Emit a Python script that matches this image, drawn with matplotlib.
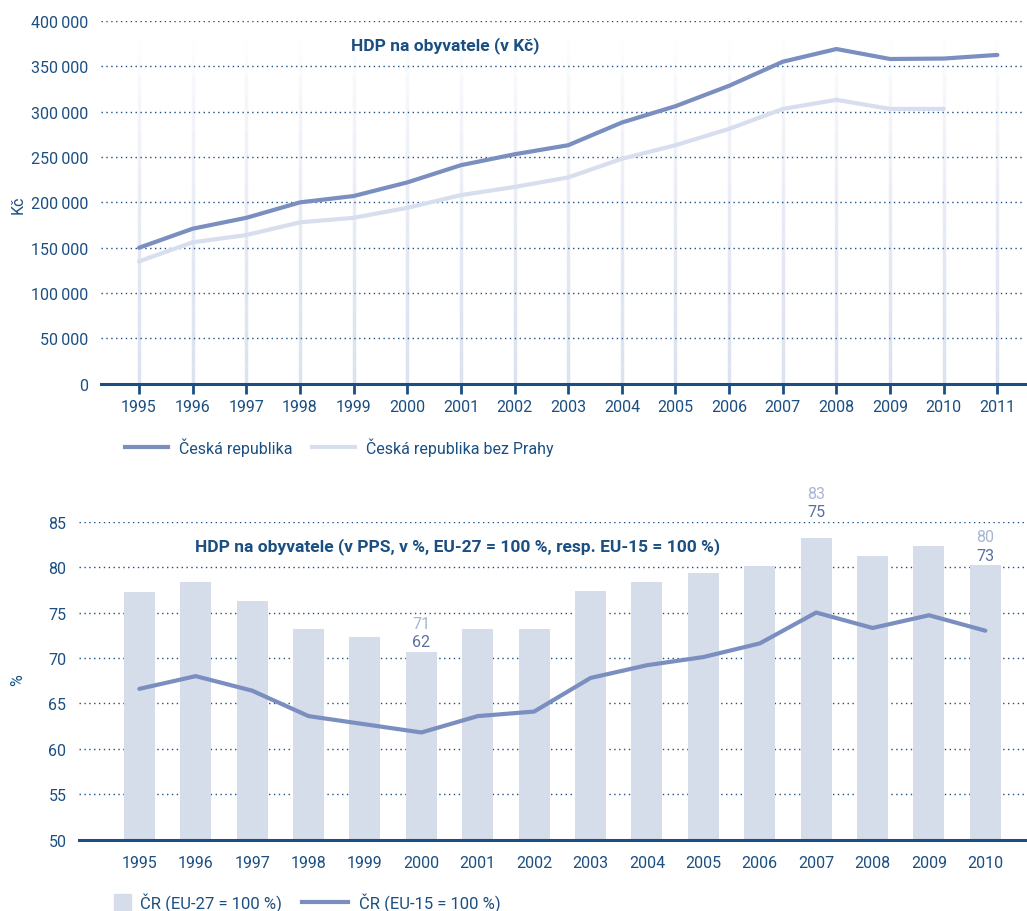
import numpy as np
import matplotlib
matplotlib.use('Agg')
import matplotlib.pyplot as plt
from matplotlib.lines import Line2D
from matplotlib.patches import Patch
from matplotlib.ticker import FuncFormatter
from matplotlib.colors import to_rgb

plt.rcParams['font.family'] = ['Roboto', 'DejaVu Sans']
FS = 11.5

navy = '#1b4f82'
dark_line = '#7a8ebf'
light_line = '#d7deee'
bar_col = '#d5dcea'

# top chart data
years_top = [1995, 1996, 1997, 1998, 1999, 2000, 2001, 2002, 2003,
             2004, 2005, 2006, 2007, 2008, 2009, 2010, 2011]
cr = [150000, 171000, 183000, 200000, 207000, 222000, 241000, 253000, 263000,
      288000, 306000, 328500, 355000, 369000, 358000, 358500, 362500]
years_bez = years_top[:-1]
cr_bez = [135000, 156000, 164000, 178000, 183000, 194000, 208000, 217000, 227500,
          248000, 263000, 281000, 303000, 313000, 303000, 303000]

# bottom chart data
years_bot = [str(y) for y in range(1995, 2011)]
eu27 = [77.3, 78.4, 76.3, 73.2, 72.3, 70.7, 73.2, 73.2, 77.4, 78.4,
        79.4, 80.1, 83.2, 81.2, 82.3, 80.2]
eu15 = [66.6, 68.0, 66.4, 63.6, 62.7, 61.8, 63.6, 64.1, 67.8, 69.2,
        70.1, 71.6, 75.0, 73.3, 74.7, 73.0]
label_years = ['2000', '2007', '2010']
label_27 = ['71', '83', '80']
label_15 = ['62', '75', '73']

fig = plt.figure(figsize=(10.27, 9.12), dpi=100)

# ---- top: HDP v Kč
ax1 = fig.add_axes([0.0983, 0.578, 0.90, 0.398])
# faint vertical guides, fading out towards the top
c0 = np.array(to_rgb('#dde2ef'))
steps = np.linspace(0, 380000, 20)
for k in range(len(steps) - 1):
    f = k / (len(steps) - 1)
    col = c0 + (1 - c0) * f ** 1.5
    ax1.vlines(years_top, steps[k], steps[k + 1], color=col, lw=2.5, zorder=0)
ax1.plot(years_top, cr, color=dark_line, lw=3, solid_capstyle='round', zorder=3)
ax1.plot(years_bez, cr_bez, color=light_line, lw=3, solid_capstyle='round', zorder=2)
ax1.set_xlim(1994.29, 2011.52)
ax1.set_ylim(0, 400000)
ax1.set_yticks(np.arange(0, 400001, 50000))
ax1.yaxis.set_major_formatter(FuncFormatter(lambda v, p: f'{int(v):,}'.replace(',', '\u2009')))
ax1.set_xticks(years_top)
ax1.grid(axis='y', color=navy, ls=(0, (1, 2.5)), lw=1)
ax1.set_axisbelow(True)
for s in ['top', 'right', 'left']:
    ax1.spines[s].set_visible(False)
ax1.spines['bottom'].set_color(navy)
ax1.spines['bottom'].set_linewidth(2.2)
ax1.tick_params(axis='x', colors=navy, length=7, width=2, labelsize=FS, pad=4)
ax1.tick_params(axis='y', length=0, labelcolor=navy, labelsize=FS, pad=9)
fig.text(18 / 1027, 1 - 205 / 912, 'Kč', rotation=90, ha='center', va='center',
         color=navy, fontsize=FS)
ax1.text(0.372, 0.935, 'HDP na obyvatele (v Kč)', transform=ax1.transAxes,
         ha='center', va='center', fontsize=12.5, fontweight='bold', color=navy)

h1 = [Line2D([0], [0], color=dark_line, lw=3),
      Line2D([0], [0], color=light_line, lw=3)]
fig.legend(h1, ['Česká republika', 'Česká republika bez Prahy'],
           loc='center left', bbox_to_anchor=(0.122, 0.509), frameon=False,
           ncol=2, fontsize=FS, handlelength=2.7, handletextpad=0.65,
           columnspacing=1.25, labelcolor=navy, borderaxespad=0, borderpad=0)

# ---- bottom: HDP v PPS
ax2 = fig.add_axes([0.0769, 0.0782, 0.921, 0.3487])
x = np.arange(len(years_bot))
ax2.bar(x, [v - 50 for v in eu27], bottom=50, width=0.55, color=bar_col, zorder=2)
ax2.plot(x, eu15, color=dark_line, lw=3, solid_capstyle='round', zorder=3)
ax2.set_xlim(-1.07, 15.7)
ax2.set_ylim(50, 85)
ax2.set_yticks(np.arange(50, 86, 5))
ax2.set_xticks(x)
ax2.set_xticklabels(years_bot)
ax2.grid(axis='y', color=navy, ls=(0, (1, 2.5)), lw=1, zorder=0)
ax2.set_axisbelow(True)
for s in ['top', 'right', 'left']:
    ax2.spines[s].set_visible(False)
ax2.spines['bottom'].set_color(navy)
ax2.spines['bottom'].set_linewidth(2.2)
ax2.spines['bottom'].set_zorder(4)
ax2.tick_params(axis='x', length=0, labelcolor=navy, labelsize=FS, pad=11)
ax2.tick_params(axis='y', length=0, labelcolor=navy, labelsize=FS, pad=9)
fig.text(18 / 1027, 1 - 680 / 912, '%', rotation=90, ha='center', va='center',
         color=navy, fontsize=FS)
ax2.text(0.4, 0.925, 'HDP na obyvatele (v PPS, v %, EU-27 = 100 %, resp. EU-15 = 100 %)',
         transform=ax2.transAxes, ha='center', va='center', fontsize=12.5,
         fontweight='bold', color=navy)
for yr, a, b in zip(label_years, label_27, label_15):
    i = years_bot.index(yr)
    base = eu27[i] if eu27[i] < 82 else 85
    ax2.annotate(b, (i, base), xytext=(0, 2), textcoords='offset points',
                 ha='center', va='bottom', fontsize=FS, color='#5b6f9f',
                 annotation_clip=False)
    ax2.annotate(a, (i, base), xytext=(0, 15), textcoords='offset points',
                 ha='center', va='bottom', fontsize=FS, color='#a8b5d3',
                 annotation_clip=False)

fig.legend([Patch(color=bar_col)], ['ČR (EU-27 = 100 %)'],
           loc='center left', bbox_to_anchor=(0.111, 0.01), frameon=False,
           fontsize=12, handlelength=1.0, handleheight=1.05, handletextpad=0.55,
           labelcolor=navy, borderaxespad=0, borderpad=0)
fig.legend([Line2D([0], [0], color=dark_line, lw=3)], ['ČR (EU-15 = 100 %)'],
           loc='center left', bbox_to_anchor=(0.294, 0.01), frameon=False,
           fontsize=12, handlelength=2.75, handletextpad=0.65,
           labelcolor=navy, borderaxespad=0, borderpad=0)

fig.savefig('out.png', dpi=100)
